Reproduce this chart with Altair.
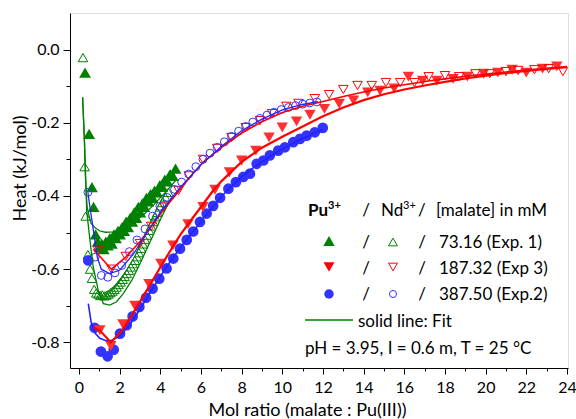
import altair as alt
import pandas as pd

# ---------------- data ----------------
# Pu3+ / 73.16 mM (Exp. 1) : filled green triangles
pu1_x = [0.30, 0.50, 0.64, 0.72, 0.82, 0.92, 1.02, 1.12, 1.22, 1.32, 1.42, 1.52, 1.62, 1.72,
         1.82, 1.92, 2.02, 2.12, 2.22, 2.32, 2.42, 2.52, 2.62, 2.72, 2.82, 2.92, 3.02, 3.12,
         3.22, 3.32, 3.42, 3.52, 3.62, 3.72, 3.85, 3.98, 4.10, 4.22, 4.35, 4.48, 4.62, 4.75]
pu1_y = [-0.063, -0.230, -0.376, -0.430, -0.505, -0.525, -0.540, -0.530, -0.545, -0.525, -0.535,
         -0.515, -0.530, -0.505, -0.515, -0.495, -0.505, -0.485, -0.495, -0.470, -0.485, -0.460,
         -0.470, -0.445, -0.460, -0.430, -0.445, -0.420, -0.430, -0.405, -0.415, -0.395, -0.405,
         -0.385, -0.390, -0.370, -0.375, -0.355, -0.360, -0.340, -0.345, -0.325]
# Nd3+ / 73.16 mM (Exp. 1) : open green triangles
nd1_x = [0.20, 0.28, 0.33, 0.44, 0.55, 0.64, 0.75, 0.85, 0.95, 1.05, 1.15, 1.25, 1.35, 1.45, 1.55,
         1.65, 1.75, 1.85, 1.95, 2.05, 2.15, 2.25, 2.35, 2.45, 2.55, 2.65, 2.75, 2.85, 2.95,
         3.05, 3.15, 3.25, 3.35, 3.45, 3.55, 3.65, 3.75, 3.85, 3.98, 4.10, 4.25, 4.40]
nd1_y = [-0.022, -0.320, -0.455, -0.560, -0.600, -0.625, -0.655, -0.665, -0.668, -0.672, -0.670,
         -0.673, -0.671, -0.668, -0.664, -0.660, -0.655, -0.649, -0.642, -0.635, -0.628, -0.620,
         -0.612, -0.603, -0.594, -0.585, -0.576, -0.566, -0.555, -0.543, -0.531, -0.519, -0.507,
         -0.494, -0.482, -0.470, -0.457, -0.445, -0.430, -0.418, -0.403, -0.390]
# Pu3+ / 187.32 mM (Exp 3) : filled red down-triangles
pu3_x = [1.03, 1.57, 2.16, 2.75, 3.44, 4.03, 4.62, 5.36, 6.10, 6.69, 7.40, 8.00, 8.70, 9.35,
         10.00, 10.70, 11.36, 12.07, 12.80, 13.50, 14.20, 14.80, 15.50, 16.20, 16.90, 17.60,
         18.40, 19.10, 19.90, 20.60, 21.30, 22.00, 22.80, 23.50]
pu3_y = [-0.767, -0.810, -0.750, -0.700, -0.640, -0.585, -0.535, -0.477, -0.430, -0.383, -0.335,
         -0.303, -0.276, -0.240, -0.213, -0.196, -0.178, -0.162, -0.148, -0.139, -0.117, -0.112,
         -0.106, -0.074, -0.085, -0.085, -0.080, -0.074, -0.066, -0.063, -0.055, -0.063, -0.052,
         -0.046]
# Nd3+ / 187.32 mM (Exp 3) : open red down-triangles
nd3_x = [0.93, 1.60, 2.30, 3.00, 3.55, 4.20, 4.90, 5.40, 6.10, 6.80, 7.50, 8.20, 8.90, 9.50,
         10.20, 10.80, 11.60, 12.30, 13.00, 13.70, 14.40, 15.10, 15.80, 16.50, 17.20, 18.00,
         18.70, 19.50, 20.20, 21.00, 21.60, 22.40, 23.10, 23.80]
nd3_y = [-0.548, -0.600, -0.565, -0.530, -0.483, -0.430, -0.385, -0.345, -0.300, -0.270, -0.240,
         -0.213, -0.194, -0.175, -0.155, -0.147, -0.134, -0.123, -0.109, -0.098, -0.098, -0.090,
         -0.090, -0.090, -0.074, -0.071, -0.074, -0.066, -0.066, -0.060, -0.057, -0.055, -0.052,
         -0.060]
# Pu3+ / 387.50 mM (Exp.2) : filled blue circles
pu2_x = [0.46, 0.77, 1.08, 1.41, 1.71, 2.02, 2.35, 2.64, 2.97, 3.30, 3.62, 3.95, 4.31, 4.64,
         4.97, 5.30, 5.62, 5.95, 6.28, 6.60, 6.94, 7.35, 7.72, 8.08, 8.41, 8.74, 9.07, 9.39,
         9.80, 10.13, 10.54, 10.87, 11.20, 11.60, 11.99]
pu2_y = [-0.576, -0.760, -0.825, -0.838, -0.820, -0.776, -0.753, -0.729, -0.703, -0.678, -0.653,
         -0.626, -0.598, -0.571, -0.544, -0.520, -0.497, -0.471, -0.448, -0.427, -0.405, -0.380,
         -0.362, -0.348, -0.339, -0.312, -0.303, -0.289, -0.276, -0.267, -0.253, -0.244, -0.235,
         -0.226, -0.214]
# Nd3+ / 387.50 mM (Exp.2) : open blue circles
nd2_x = [0.44, 0.80, 1.10, 1.42, 1.77, 2.10, 2.48, 2.85, 3.25, 3.62, 3.98, 4.34, 4.70, 5.05,
         5.40, 5.75, 6.10, 6.45, 6.80, 7.15, 7.50, 7.85, 8.20, 8.55, 8.90, 9.25, 9.60, 9.95,
         10.30, 10.65, 11.00, 11.35, 11.70]
nd2_y = [-0.390, -0.567, -0.617, -0.622, -0.610, -0.590, -0.552, -0.520, -0.490, -0.455, -0.428,
         -0.404, -0.382, -0.362, -0.340, -0.320, -0.300, -0.283, -0.267, -0.252, -0.237, -0.223,
         -0.210, -0.198, -0.188, -0.179, -0.171, -0.164, -0.158, -0.153, -0.149, -0.146, -0.143]

# fits (solid lines)
fit_pu1_x = [0.18, 0.27, 0.32, 0.40, 0.50, 0.60, 0.80, 1.00, 1.30, 1.70, 2.20, 2.70, 3.20, 3.70, 4.20, 4.80]
fit_pu1_y = [-0.130, -0.250, -0.350, -0.430, -0.455, -0.475, -0.487, -0.495, -0.499, -0.498,
             -0.489, -0.472, -0.450, -0.423, -0.393, -0.355]
fit_nd1_x = [0.18, 0.27, 0.32, 0.38, 0.54, 0.70, 0.95, 1.20, 1.52, 1.85, 2.18, 2.60, 3.00, 3.50, 4.00, 4.40]
fit_nd1_y = [-0.130, -0.250, -0.330, -0.440, -0.520, -0.594, -0.658, -0.694, -0.698, -0.689,
             -0.667, -0.630, -0.585, -0.525, -0.465, -0.420]
fit_pu3_x = [0.72, 1.03, 1.57, 2.16, 2.75, 3.44, 4.03, 4.62, 5.00, 5.50, 6.00, 6.60, 7.00, 8.00,
             9.00, 10.00, 11.00, 12.00, 13.00, 14.00, 15.00, 16.00, 17.00, 18.00, 19.00, 20.00,
             21.00, 22.00, 23.00, 24.00]
fit_pu3_y = [-0.760, -0.767, -0.800, -0.765, -0.712, -0.648, -0.592, -0.538, -0.505, -0.467,
             -0.430, -0.385, -0.360, -0.307, -0.268, -0.238, -0.210, -0.182, -0.158, -0.138,
             -0.122, -0.109, -0.098, -0.088, -0.079, -0.071, -0.064, -0.058, -0.053, -0.048]
fit_nd3_x = [0.70, 1.60, 2.30, 3.00, 3.60, 4.20, 4.90, 5.40, 6.10, 7.00, 8.00, 9.00, 10.00, 11.00,
             12.00, 13.00, 14.00, 15.00, 16.00, 17.00, 18.00, 19.00, 20.00, 21.00, 22.00, 23.00, 24.00]
fit_nd3_y = [-0.545, -0.600, -0.567, -0.525, -0.480, -0.435, -0.388, -0.352, -0.308, -0.268,
             -0.228, -0.197, -0.172, -0.155, -0.142, -0.128, -0.116, -0.105, -0.096, -0.087,
             -0.080, -0.073, -0.067, -0.061, -0.056, -0.051, -0.046]
fit_pu2_x = [0.46, 0.60, 0.80, 1.03, 1.30, 1.60, 2.00, 2.50, 3.00, 3.50, 4.00, 4.50, 5.00, 5.50,
             6.00, 6.50, 7.00, 7.50, 8.00, 8.50, 9.00, 9.50, 10.00, 10.50, 11.00, 11.50, 12.00]
fit_pu2_y = [-0.694, -0.745, -0.775, -0.789, -0.795, -0.795, -0.783, -0.752, -0.710, -0.664,
             -0.620, -0.578, -0.540, -0.505, -0.470, -0.435, -0.402, -0.373, -0.348, -0.326,
             -0.306, -0.288, -0.272, -0.257, -0.243, -0.230, -0.218]
fit_nd2_x = [0.44, 0.54, 0.70, 0.90, 1.10, 1.50, 2.00, 2.70, 3.30, 4.00, 5.00, 6.00, 7.00, 8.00,
             9.00, 10.00, 11.00, 11.75]
fit_nd2_y = [-0.390, -0.430, -0.490, -0.567, -0.600, -0.612, -0.603, -0.557, -0.505, -0.445,
             -0.375, -0.315, -0.265, -0.222, -0.190, -0.165, -0.150, -0.142]

x_major = [0, 2, 4, 6, 8, 10, 12, 14, 16, 18, 20, 22, 24]
x_minor = [1, 3, 5, 7, 9, 11, 13, 15, 17, 19, 21, 23]
y_major = [-0.8, -0.6, -0.4, -0.2, 0.0]
y_minor = [-0.7, -0.5, -0.3, -0.1]

# ---------------- styling ----------------
FONT = "Lato"
GREEN = "#008000"
RED = "#ff0000"
RED_M = "#ff3030"
BLUE = "#2222ff"
BLUE_M = "#3333ff"

W, H = 498, 355
xs = alt.Scale(domain=[-0.44, 24.05], nice=False, zero=False)
ys = alt.Scale(domain=[-0.87, 0.1], nice=False, zero=False)


def df(x, y):
    return pd.DataFrame({"x": x, "y": y})


def enc(ch):
    return ch.encode(x=alt.X("x:Q", scale=xs, axis=None), y=alt.Y("y:Q", scale=ys, axis=None))


def pts(x, y, shape, color, size, filled):
    if filled:
        m = alt.Chart(df(x, y)).mark_point(shape=shape, filled=True, color=color, size=size,
                                            opacity=1, strokeWidth=0)
    else:
        m = alt.Chart(df(x, y)).mark_point(shape=shape, filled=False, color=color, size=size,
                                            opacity=1, strokeWidth=1)
    return enc(m)


def line(x, y, color, w):
    return enc(alt.Chart(df(x, y)).mark_line(color=color, strokeWidth=w))


one = pd.DataFrame({"a": [0]})


def txt(s, px, py, size=17, weight="normal", align="left"):
    return alt.Chart(one).mark_text(text=s, font=FONT, fontSize=size, fontWeight=weight,
                                    align=align, baseline="alphabetic", color="black").encode(
        x=alt.value(px - 70), y=alt.value(py - 13))


def sym(shape, color, size, filled, px, py):
    return alt.Chart(one).mark_point(shape=shape, filled=filled, color=color, size=size, opacity=1,
                                     strokeWidth=0 if filled else 1).encode(
        x=alt.value(px - 70), y=alt.value(py - 13))


axis_common = dict(tickColor="black", domainColor="black", labelColor="black", titleColor="black",
                   labelFont=FONT, titleFont=FONT, grid=False, domainWidth=1, tickWidth=1)

major_axes = alt.Chart(df([0], [0])).mark_point(opacity=0).encode(
    x=alt.X("x:Q", scale=xs, axis=alt.Axis(
        orient="bottom", values=x_major, format="d", title="Mol ratio (malate : Pu(III))",
        tickSize=6, labelFontSize=16, labelPadding=5, labelFlush=False,
        titleFontSize=18, titleFontWeight="normal", titleX=237, titleY=42,
        titleBaseline="middle", titleAlign="center", **axis_common)),
    y=alt.Y("y:Q", scale=ys, axis=alt.Axis(
        orient="left", values=y_major, title="Heat (kJ/mol)",
        labelExpr="(datum.value < -0.001 ? '-' : '') + format(abs(datum.value), '.1f')",
        tickSize=7, labelFontSize=16, labelPadding=4, labelFlush=False,
        titleFontSize=18, titleFontWeight="normal", titleX=-50, titleY=155,
        titleBaseline="middle", titleAlign="center", **axis_common)),
)
minor_axes = alt.Chart(df([0], [0])).mark_point(opacity=0).encode(
    x=alt.X("x:Q", scale=xs, axis=alt.Axis(
        orient="bottom", values=x_minor, labels=False, domain=False, title=None, tickSize=3,
        tickColor="black", grid=False)),
    y=alt.Y("y:Q", scale=ys, axis=alt.Axis(
        orient="left", values=y_minor, labels=False, domain=False, title=None, tickSize=4,
        tickColor="black", grid=False)),
)

layers = [
    major_axes, minor_axes,
    pts(nd1_x, nd1_y, "triangle-up", GREEN, 90, False),
    pts(pu1_x, pu1_y, "triangle-up", GREEN, 140, True),
    pts(pu2_x, pu2_y, "circle", BLUE_M, 115, True),
    pts(pu3_x, pu3_y, "triangle-down", RED_M, 130, True),
    pts(nd3_x, nd3_y, "triangle-down", RED, 90, False),
    pts(nd2_x, nd2_y, "circle", BLUE_M, 62, False),
    line(fit_pu1_x, fit_pu1_y, GREEN, 1.3),
    line(fit_nd1_x, fit_nd1_y, GREEN, 1.3),
    line(fit_pu2_x, fit_pu2_y, BLUE, 1.6),
    line(fit_nd3_x, fit_nd3_y, RED, 1.6),
    line(fit_nd2_x, fit_nd2_y, BLUE, 1.3),
    line(fit_pu3_x, fit_pu3_y, RED, 2.2),
    # legend
    txt("Pu", 308, 216, 17, "bold"),
    txt("3+", 328, 209, 11, "bold"),
    txt("/", 366, 216, 17, align="center"),
    txt("Nd", 381, 216, 17),
    txt("3+", 403, 209, 11),
    txt("/", 418, 216, 17),
    txt("[malate] in mM", 436, 216, 17),
    sym("triangle-up", GREEN, 130, True, 329, 241),
    txt("/", 366, 248, 17, align="center"),
    sym("triangle-up", GREEN, 80, False, 393, 242),
    txt("/", 422, 248, 17, align="center"),
    txt("73.16 (Exp. 1)", 439, 248, 17),
    sym("triangle-down", RED, 120, True, 329, 267),
    txt("/", 366, 274, 17, align="center"),
    sym("triangle-down", RED, 80, False, 393, 267),
    txt("/", 422, 274, 17, align="center"),
    txt("187.32 (Exp 3)", 439, 274, 17),
    sym("circle", BLUE_M, 90, True, 329, 294),
    txt("/", 366, 300, 17, align="center"),
    sym("circle", BLUE_M, 50, False, 393, 294),
    txt("/", 422, 300, 17, align="center"),
    txt("387.50 (Exp.2)", 439, 300, 17),
    alt.Chart(one).mark_rule(color=GREEN, strokeWidth=1.5).encode(
        x=alt.value(305 - 70), x2=alt.value(353 - 70), y=alt.value(320 - 13)),
    txt("solid line: Fit", 358, 327, 17),
    txt("pH = 3.95, I = 0.6 m, T = 25 °C", 305, 354, 17),
]

chart = alt.layer(*layers).resolve_axis(x="independent", y="independent").properties(
    width=W, height=H,
    autosize=alt.AutoSizeParams(type="none"),
    padding={"left": 70, "top": 13, "right": 8, "bottom": 51},
).configure_view(stroke="#444444", strokeWidth=1).configure(background="white")

chart.save("out.html", embed_options={"renderer": "svg", "actions": False})
